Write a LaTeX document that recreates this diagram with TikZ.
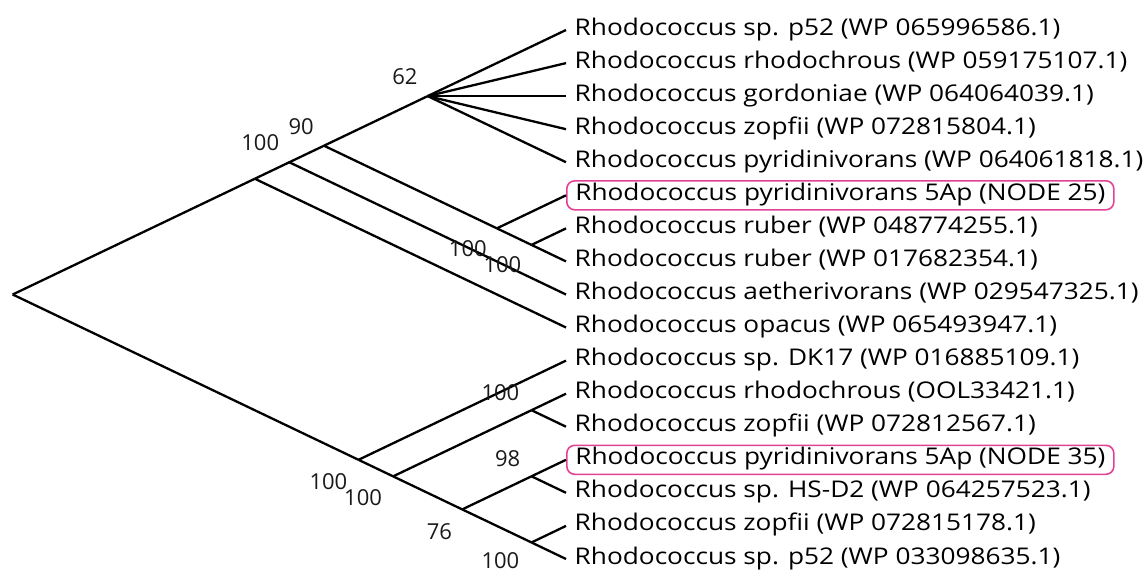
\documentclass[tikz,border=0pt]{standalone}
\usepackage{fontspec}
\setmainfont{Open Sans}
\newfontfamily\taxonfont[FakeStretch=1.14]{Open Sans}
\definecolor{hilite}{RGB}{226,66,150}
\begin{document}
\begin{tikzpicture}[x=1pt,y=-1pt,
  branch/.style={line width=2.3pt, line join=round},
  leaf/.style={anchor=west, inner xsep=8.5pt, inner ysep=3.5pt,
    text height=16pt, text depth=6pt,
    font=\taxonfont\fontsize{23}{27}\selectfont, text=black},
  hit/.style={leaf, draw=hilite, line width=1.6pt, rounded corners=8pt},
  bs/.style={anchor=east, inner sep=0pt, font=\fontsize{22}{26}\selectfont, text=black!90}]
\useasboundingbox (0,0) rectangle (1146,571);

% internal nodes of the slanted cladogram
\coordinate (root) at (12.7,294.5);
\coordinate (A) at (254.8,178.75);
\coordinate (B) at (289.3,162.25);
\coordinate (C) at (324.0,145.7);
\coordinate (P) at (427.7,96.1);
\coordinate (D) at (496.9,228.35);
\coordinate (E) at (531.5,244.9);
\coordinate (L) at (358.5,459.8);
\coordinate (F) at (393.1,476.35);
\coordinate (G) at (531.5,410.2);
\coordinate (H) at (462.2,509.4);
\coordinate (I) at (531.5,476.3);
\coordinate (J) at (531.5,542.45);

% taxa
\node[leaf] (l1)  at (566,30.0)  {Rhodococcus sp. p52 (WP 065996586.1)};
\node[leaf] (l2)  at (566,63.1)  {Rhodococcus rhodochrous (WP 059175107.1)};
\node[leaf] (l3)  at (566,96.1)  {Rhodococcus gordoniae (WP 064064039.1)};
\node[leaf] (l4)  at (566,129.2) {Rhodococcus zopfii (WP 072815804.1)};
\node[leaf] (l5)  at (566,162.2) {Rhodococcus pyridinivorans (WP 064061818.1)};
\node[hit]  (l6)  at (566,195.3) {Rhodococcus pyridinivorans 5Ap (NODE 25)};
\node[leaf] (l7)  at (566,228.4) {Rhodococcus ruber (WP 048774255.1)};
\node[leaf] (l8)  at (566,261.4) {Rhodococcus ruber (WP 017682354.1)};
\node[leaf] (l9)  at (566,294.5) {Rhodococcus aetherivorans (WP 029547325.1)};
\node[leaf] (l10) at (566,327.5) {Rhodococcus opacus (WP 065493947.1)};
\node[leaf] (l11) at (566,360.6) {Rhodococcus sp. DK17 (WP 016885109.1)};
\node[leaf] (l12) at (566,393.7) {Rhodococcus rhodochrous (OOL33421.1)};
\node[leaf] (l13) at (566,426.7) {Rhodococcus zopfii (WP 072812567.1)};
\node[hit]  (l14) at (566,459.8) {Rhodococcus pyridinivorans 5Ap (NODE 35)};
\node[leaf] (l15) at (566,492.8) {Rhodococcus sp. HS-D2 (WP 064257523.1)};
\node[leaf] (l16) at (566,525.9) {Rhodococcus zopfii (WP 072815178.1)};
\node[leaf] (l17) at (566,559.0) {Rhodococcus sp. p52 (WP 033098635.1)};

% branches
\draw[branch] (root) -- (A);
\draw[branch] (A) -- (B);
\draw[branch] (A) -- (l10.west);
\draw[branch] (B) -- (C);
\draw[branch] (B) -- (l9.west);
\draw[branch] (C) -- (P);
\draw[branch] (C) -- (D);
\foreach \t in {l1,l2,l3,l4,l5} \draw[branch] (P) -- (\t.west);
\draw[branch] (D) -- (l6.west);
\draw[branch] (D) -- (E);
\draw[branch] (E) -- (l7.west);
\draw[branch] (E) -- (l8.west);
\draw[branch] (root) -- (L);
\draw[branch] (L) -- (l11.west);
\draw[branch] (L) -- (F);
\draw[branch] (F) -- (G);
\draw[branch] (F) -- (H);
\draw[branch] (G) -- (l12.west);
\draw[branch] (G) -- (l13.west);
\draw[branch] (H) -- (I);
\draw[branch] (H) -- (J);
\draw[branch] (I) -- (l14.west);
\draw[branch] (I) -- (l15.west);
\draw[branch] (J) -- (l16.west);
\draw[branch] (J) -- (l17.west);

% bootstrap support values
\path (P) ++(-10,-19) node[bs] (sP) {62};
\path (C) ++(-10,-19) node[bs] (sC) {90};
\path (B) ++(-10,-20) node[bs] (sB) {100};
\path (D) ++(-10,20) node[bs] (sD) {100};
\path (E) ++(-10,20) node[bs] (sE) {100};
\path (G) ++(-12,-18) node[bs] (sG) {100};
\path (I) ++(-11,-18) node[bs] (sI) {98};
\path (L) ++(-11,22) node[bs] (sL) {100};
\path (F) ++(-11,21) node[bs] (sF) {100};
\path (H) ++(-10,22) node[bs] (sH) {76};
\path (J) ++(-12,18.5) node[bs] (sJ) {100};
\end{tikzpicture}
\end{document}
